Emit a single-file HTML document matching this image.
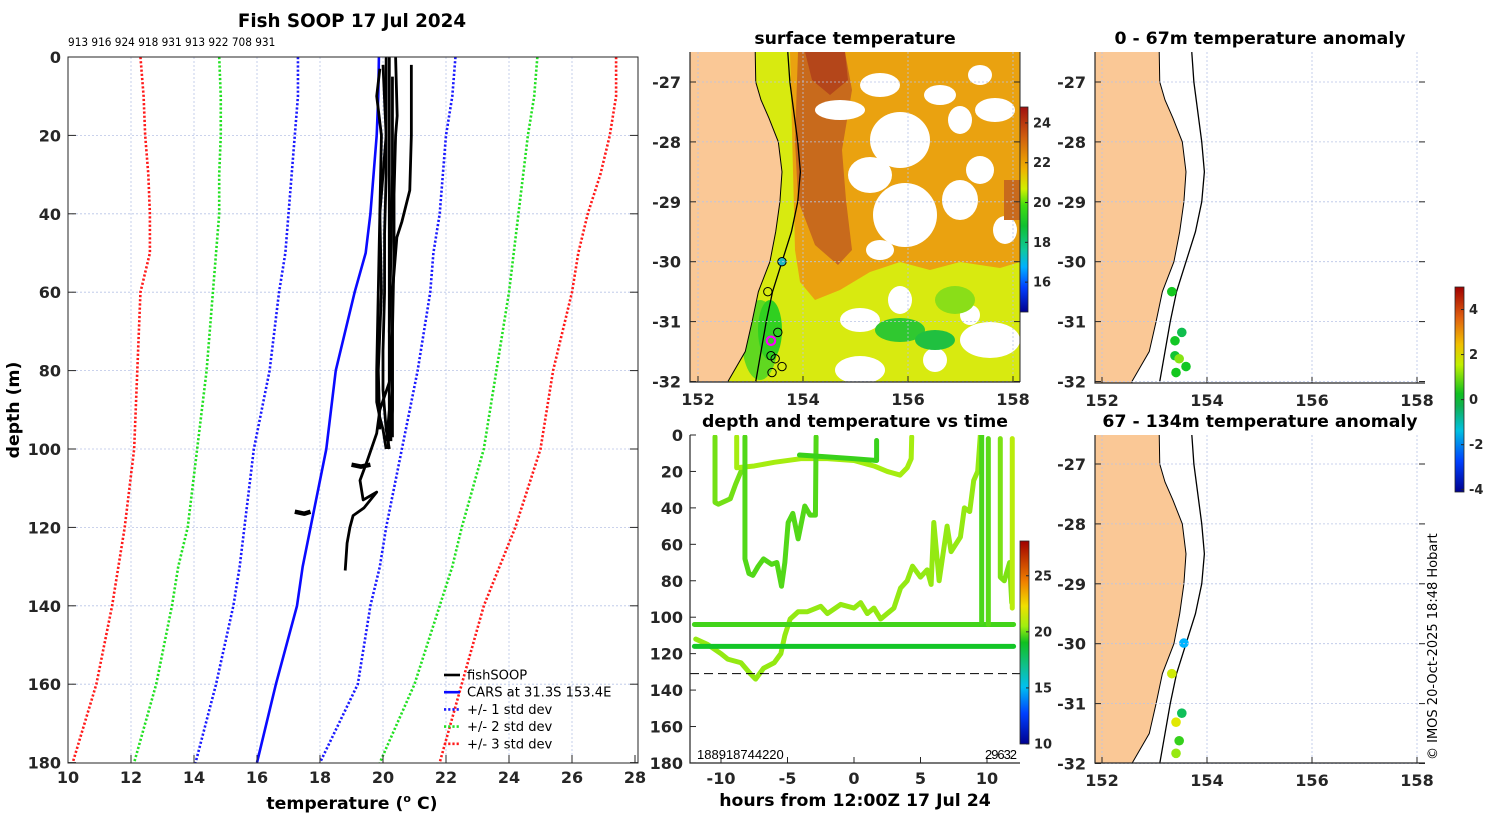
<!DOCTYPE html>
<html><head><meta charset="utf-8"><style>
body{margin:0;background:#fff;}
svg{display:block;font-family:"Liberation Sans","DejaVu Sans",sans-serif;}
.tk{font-family:"DejaVu Sans","Liberation Sans",sans-serif;font-weight:bold;font-size:16px;fill:#262626;}
.ttl{font-family:"DejaVu Sans","Liberation Sans",sans-serif;font-weight:bold;font-size:17.3px;fill:#000;}
.lg{font-family:"DejaVu Sans","Liberation Sans",sans-serif;font-size:13.1px;fill:#000;}
.grid{stroke:#b8c4e6;stroke-width:0.8;stroke-dasharray:2 2;fill:none;}
</style></head><body>
<svg id="fig" width="1500" height="820" viewBox="0 0 1500 820" xmlns="http://www.w3.org/2000/svg">
<defs>
<linearGradient id="jetSST" x1="0" y1="1" x2="0" y2="0">
<stop offset="0" stop-color="#00008f"/><stop offset="0.12" stop-color="#0040ff"/><stop offset="0.22" stop-color="#00b0ff"/><stop offset="0.3" stop-color="#10c8a0"/><stop offset="0.42" stop-color="#10c030"/><stop offset="0.52" stop-color="#40dd10"/><stop offset="0.6" stop-color="#d0f000"/><stop offset="0.7" stop-color="#f0b000"/><stop offset="0.85" stop-color="#d06010"/><stop offset="1" stop-color="#a01010"/>
</linearGradient>
<linearGradient id="jetTime" x1="0" y1="1" x2="0" y2="0">
<stop offset="0" stop-color="#00008f"/><stop offset="0.15" stop-color="#0040ff"/><stop offset="0.28" stop-color="#00c0f0"/><stop offset="0.38" stop-color="#10c090"/><stop offset="0.5" stop-color="#10c020"/><stop offset="0.58" stop-color="#a0ee10"/><stop offset="0.68" stop-color="#f0e000"/><stop offset="0.8" stop-color="#f08000"/><stop offset="1" stop-color="#a00000"/>
</linearGradient>
<linearGradient id="jetAnom" x1="0" y1="1" x2="0" y2="0">
<stop offset="0" stop-color="#00008f"/><stop offset="0.15" stop-color="#0040ff"/><stop offset="0.3" stop-color="#00c0e0"/><stop offset="0.42" stop-color="#10b050"/><stop offset="0.48" stop-color="#10c020"/><stop offset="0.62" stop-color="#c0f000"/><stop offset="0.72" stop-color="#f0c000"/><stop offset="0.85" stop-color="#e06010"/><stop offset="1" stop-color="#a00000"/>
</linearGradient>
<clipPath id="clipP"><rect x="68" y="57" width="570" height="706"/></clipPath>
<clipPath id="clipM1"><rect x="690" y="52" width="330" height="330"/></clipPath>
<clipPath id="clipM2"><rect x="1095" y="52" width="330" height="331"/></clipPath>
<clipPath id="clipM3"><rect x="1095" y="435" width="330" height="328"/></clipPath>
<clipPath id="clipT"><rect x="690" y="435" width="330" height="328"/></clipPath>
</defs>

<!-- ===== profile panel ===== -->
<text class="ttl" x="352" y="27" text-anchor="middle" font-size="18.3" style="font-size:18.3px">Fish SOOP 17 Jul 2024</text>
<text x="68" y="46" font-size="11.7" font-family="DejaVu Sans Condensed, DejaVu Sans, sans-serif" fill="#000">913 916 924 918 931 913 922 708 931</text>
<g id="profGrid"></g>
<g id="profMarks" clip-path="url(#clipP)"></g>
<rect x="68" y="57" width="570" height="706" fill="none" stroke="#262626" stroke-width="1"/>
<g id="profTicks"></g>
<text class="ttl" x="352" y="809" text-anchor="middle">temperature (<tspan font-size="11" dy="-7">o</tspan><tspan dy="7"> C)</tspan></text>
<text class="ttl" transform="translate(19,410) rotate(-90)" text-anchor="middle">depth (m)</text>
<g id="legend"></g>

<!-- ===== SST map ===== -->
<text class="ttl" x="855" y="44" text-anchor="middle">surface temperature</text>
<g id="m1" clip-path="url(#clipM1)"></g>
<g id="m1ax"></g>
<rect x="1020" y="107" width="8" height="205" fill="url(#jetSST)" stroke="#262626" stroke-width="0.8"/>
<g id="cb1"></g>

<!-- ===== time plot ===== -->
<text class="ttl" x="855" y="427" text-anchor="middle">depth and temperature vs time</text>
<g id="tMarks" clip-path="url(#clipT)"></g>
<g id="tAx"></g>
<rect x="1020" y="541" width="9" height="203" fill="url(#jetTime)" stroke="#262626" stroke-width="0.8"/>
<g id="cb2"></g>
<text class="ttl" x="855" y="806" text-anchor="middle">hours from 12:00Z 17 Jul 24</text>
<text x="697" y="759" font-size="13" fill="#000">188918744220</text>
<text x="985" y="759" font-size="13" fill="#000" textLength="32">29632</text>

<!-- ===== anomaly maps ===== -->
<text class="ttl" x="1260" y="44" text-anchor="middle">0 - 67m temperature anomaly</text>
<g id="m2" clip-path="url(#clipM2)"></g>
<g id="m2ax"></g>
<text class="ttl" x="1260" y="427" text-anchor="middle">67 - 134m temperature anomaly</text>
<g id="m3" clip-path="url(#clipM3)"></g>
<g id="m3ax"></g>
<rect x="1455" y="287" width="9" height="205" fill="url(#jetAnom)" stroke="#262626" stroke-width="0.8"/>
<g id="cb3"></g>
<text transform="translate(1437,760) rotate(-90)" font-size="13" font-family="DejaVu Sans, sans-serif" fill="#000">© IMOS 20-Oct-2025 18:48 Hobart</text>
</svg>

<script>
// ---------- profile data ----------
const depthLevels = [0,10,20,30,40,50,60,80,100,120,130,140,160,180];
const carsMean   = [19.87,19.85,19.8,19.7,19.6,19.45,19.1,18.5,18.2,17.7,17.45,17.27,16.6,16.0];
const std1Low    = [17.3,17.3,17.2,17.1,17.0,16.9,16.7,16.4,15.9,15.6,15.45,15.25,14.7,14.05];
const std1High   = [22.3,22.2,22.0,21.9,21.8,21.6,21.5,21.1,20.6,20.1,19.9,19.6,19.2,18.0];
const std2Low    = [14.8,14.85,14.85,14.8,14.8,14.7,14.6,14.4,14.1,13.8,13.5,13.3,12.8,12.1];
const std2High   = [24.9,24.8,24.6,24.45,24.3,24.15,24.0,23.6,23.2,22.5,22.2,21.8,21.0,19.9];
const std3Low    = [12.3,12.4,12.45,12.55,12.6,12.6,12.3,12.2,12.1,11.8,11.6,11.4,10.9,10.15];
const std3High   = [27.4,27.4,27.2,26.9,26.5,26.2,26.0,25.4,25.0,24.2,23.7,23.2,22.5,21.8];
const fishTemps = [
 [19.9,19.8,19.95,19.9,19.85,19.8,19.8,19.9,20.0,20.1],
 [20.1,20.1,20.1,20.05,20.05,20.0,20.0,20.1,20.2],
 [20.2,20.2,20.2,20.2,20.2,20.2,20.2,20.15,20.1],
 [20.4,20.45,20.4,20.35,20.35,20.3,20.3,20.25,20.25],
 [20.9,20.9,20.85,20.6,20.44,20.3,20.3,20.3,20.3],
 [20.0,20.1,19.9,19.95,19.85,19.9],
 [20.3,20.3,20.25,20.2,20.3,20.2,20.15],
 [20.2,19.9,19.8,19.5,19.27,19.37,19.8,19.4,19.05,18.95,18.86,18.8],
 [17.2,17.5,17.7],
 [19.0,19.3,19.6]
];
const fishDepths = [
 [3,10,20,40,60,80,88,92,95,100],
 [0,15,30,45,60,75,85,95,100],
 [0,20,40,60,70,80,90,95,98],
 [0,15,20,35,50,70,90,95,98],
 [2,20,34,42,46,60,80,90,97],
 [2,20,40,60,80,95],
 [5,30,50,70,85,95,100],
 [83,90,96,103,108,113,111,115,117,120,124,131],
 [116,116.5,116],
 [104,104.5,104]
];
const profTempTicks = [10,12,14,16,18,20,22,24,26,28];
const profDepthTicks = [0,20,40,60,80,100,120,140,160,180];
const legendLabels = ["fishSOOP","CARS at 31.3S 153.4E","+/- 1 std dev","+/- 2 std dev","+/- 3 std dev"];

// ---------- time plot data ----------
const timeTicks = [-10,-5,0,5,10];
const timeDepthTicks = [0,20,40,60,80,100,120,140,160,180];
const traceTimes = [
 [-10.45,-10.45,-10.2,-9.6,-9.3,-8.9,-8.5],
 [-8.82,-8.82,-7.5,-6,-4,-2,0,1,1.5,2.5,3.46,4.0,4.3,4.34],
 [-8.2,-8.2,-7.9,-7.6,-7.2,-6.8,-6.2,-5.8,-5.45,-5.2,-4.95,-4.6,-4.2,-3.7,-3.3,-2.9,-2.85],
 [-4.1,-2,0,1.7,1.7],
 [-11.9,-11,-10,-9.5,-8.5,-7.8,-7.4,-6.8,-6,-5.5,-5.2,-4.8,-4.2,-3.5,-2.5,-2,-1,0,0.5,1,1.5,2,3,3.5,4,4.4,5,5.5,5.8,6,6.4,6.7,7,7.3,8,8.3,8.7,9,9.3,9.5],
 [-12,-6,0,6,12],
 [-12,-6,0,6,12],
 [9.6,9.6],
 [10.1,10.1],
 [11,11,11.3,11.7,11.86],
 [11.9,11.9]
];
const traceDepths = [
 [1,37,38,36,35,27,20],
 [1,18,17,15,13,13,14,16,17,20,22,18,13,1],
 [1,68,76,77,72,68,71,70,83,70,48,43,57,39,44,44,1],
 [11,12,13,14,3],
 [112,115,120,123,125,131,134,128,125,120,110,101,97,97,94,98,93,95,92,98,95,101,95,84,80,72,78,74,82,48,80,65,50,64,56,40,42,25,20,0],
 [104,104,104,104,104],
 [116,116,116,116,116],
 [0,103],
 [2,104],
 [2,78,80,70,92],
 [2,95]
];
const traceTemps = [20.2,20.8,19.8,19.5,20.6,19.6,18.8,19.7,19.9,20.3,21.2];
const referenceDepth = 131;

// ---------- map data ----------
const coastLat = [-26.5,-27,-27.3,-27.6,-28,-28.5,-29,-29.5,-30,-30.5,-31,-31.5,-32];
const coastLon = [153.09,153.1,153.2,153.35,153.53,153.6,153.56,153.48,153.37,153.15,153.03,152.9,152.57];
const isoLat = [-26.5,-27,-28,-28.5,-29,-29.5,-30,-30.5,-31,-31.5,-32];
const isoLon = [153.71,153.75,153.9,153.95,153.9,153.78,153.6,153.42,153.3,153.2,153.1];
const stnLon = [153.6,153.33,153.52,153.39,153.39,153.47,153.6,153.41];
const stnLat = [-30.0,-30.5,-31.18,-31.32,-31.57,-31.62,-31.75,-31.85];
const anomShallowLon = [153.33,153.52,153.39,153.39,153.47,153.6,153.41];
const anomShallowLat = [-30.5,-31.18,-31.32,-31.57,-31.62,-31.75,-31.85];
const anomShallowVal = [0.5,-0.2,0.4,0.2,1.2,0.4,0.5];
const anomDeepLon = [153.56,153.33,153.52,153.41,153.47,153.41];
const anomDeepLat = [-29.99,-30.5,-31.16,-31.31,-31.62,-31.83];
const anomDeepVal = [-1.5,1.8,-0.3,2.0,0.7,1.3];
const lonTicks = [152,154,156,158];
const latTicks = [-27,-28,-29,-30,-31,-32];
const sstCbTicks = [16,18,20,22,24];
const timeCbTicks = [10,15,20,25];
const anomCbTicks = [-4,-2,0,2,4];

const NS="http://www.w3.org/2000/svg";
function mk(tag, attrs, parent){const e=document.createElementNS(NS,tag);for(const k in attrs)e.setAttribute(k,attrs[k]);parent.appendChild(e);return e;}
function G(id){return document.getElementById(id);}

const jetStops=[[0,[0,0,143]],[0.125,[0,0,255]],[0.3,[0,200,255]],[0.42,[16,190,80]],[0.5,[20,200,30]],[0.6,[170,238,16]],[0.68,[240,230,0]],[0.8,[240,130,0]],[1,[160,0,0]]];
function jet(f){f=Math.max(0,Math.min(1,f));for(let i=1;i<jetStops.length;i++){if(f<=jetStops[i][0]){const a=jetStops[i-1],b=jetStops[i],t=(f-a[0])/(b[0]-a[0]);const c=a[1].map((v,j)=>Math.round(v+(b[1][j]-v)*t));return `rgb(${c[0]},${c[1]},${c[2]})`;}}return "rgb(160,0,0)";}

// ---------- profile panel ----------
const px = t => 68 + (t-10)*31.5;
const py = d => 57 + d*3.92;
profTempTicks.forEach(t=>{
  if(t>10&&t<28){const l=mk('line',{x1:px(t),x2:px(t),y1:57,y2:763,class:'grid'},G('profGrid'));
  
  }
  const tl=mk('line',{x1:px(t),x2:px(t),y1:763,y2:755,stroke:'#262626'},G('profTicks'));
  
  
  const tt=mk('text',{x:px(t),y:783,class:'tk','text-anchor':'middle'},G('profTicks'));tt.textContent=t;
  
  
});
profDepthTicks.forEach(d=>{
  if(d>0&&d<180){const l=mk('line',{x1:68,x2:638,y1:py(d),y2:py(d),class:'grid'},G('profGrid'));
  
  }
  mk('line',{x1:68,x2:76,y1:py(d),y2:py(d),stroke:'#262626'},G('profTicks'));
  mk('line',{x1:630,x2:638,y1:py(d),y2:py(d),stroke:'#262626'},G('profTicks'));
  const tt=mk('text',{x:61,y:py(d)+6,class:'tk','text-anchor':'end'},G('profTicks'));tt.textContent=d;
  
  
});
function profLine(temps, name, color, width, dash){
  const pts=temps.map((t,i)=>px(t)+','+py(depthLevels[i])).join(' ');
  const e=mk('polyline',{points:pts,fill:'none',stroke:color,'stroke-width':width},G('profMarks'));
  if(dash)e.setAttribute('stroke-dasharray',dash);
  
  
}
profLine(std3Low,'std3-low-line','#ff1a1a',2.6,'2.2 2');
profLine(std3High,'std3-high-line','#ff1a1a',2.6,'2.2 2');
profLine(std2Low,'std2-low-line','#22e022',2.6,'2.2 2');
profLine(std2High,'std2-high-line','#22e022',2.6,'2.2 2');
profLine(std1Low,'std1-low-line','#1a1aff',2.6,'2.2 2');
profLine(std1High,'std1-high-line','#1a1aff',2.6,'2.2 2');
profLine(carsMean,'cars-mean-line','#0a0aff',2.6,null);
fishTemps.forEach((temps,k)=>{
  const pts=temps.map((t,i)=>px(t)+','+py(fishDepths[k][i])).join(' ');
  const e=mk('polyline',{points:pts,fill:'none',stroke:'#000','stroke-width':k>=8?4.5:2.8,'stroke-linejoin':'round'},G('profMarks'));
  
  
});
const lgCol=['#000','#0a0aff','#1a1aff','#22e022','#ff1a1a'];
legendLabels.forEach((lab,i)=>{
  const y=675+i*17.2;
  const l=mk('line',{x1:444,x2:460,y1:y,y2:y,stroke:lgCol[i],'stroke-width':2.6},G('legend'));
  if(i>=2)l.setAttribute('stroke-dasharray','2.2 2');
  
  
  const t=mk('text',{x:467,y:y+4.5,class:'lg'},G('legend'));t.textContent=lab;
  
  
});

// ---------- maps ----------
function mapFns(x0,y0){return {X:lon=>x0+(lon-152)*52.5, Y:lat=>y0+(-27-lat)*59.9};}
function drawCoast(g,X,Y,withIso){
  let pts=coastLon.map((lo,i)=>X(lo)+','+Y(coastLat[i]));
  const land=mk('polygon',{points:X(150)+','+Y(-26)+' '+X(coastLon[0])+','+Y(-26)+' '+pts.join(' ')+' '+X(coastLon[coastLon.length-1])+','+Y(-33)+' '+X(150)+','+Y(-33),fill:'#fac896',stroke:'#000','stroke-width':1},g);
  
  
  if(withIso){
    const iso=mk('polyline',{points:isoLon.map((lo,i)=>X(lo)+','+Y(isoLat[i])).join(' '),fill:'none',stroke:'#000','stroke-width':1.3},g);
    
    
  }
}
function drawMapAxes(g,X,Y,x0,x1,ytop,ybot,showLon){
  lonTicks.forEach(lo=>{
    const l=mk('line',{x1:X(lo),x2:X(lo),y1:ytop,y2:ybot,class:'grid'},g);
    
    
    mk('line',{x1:X(lo),x2:X(lo),y1:ybot,y2:ybot-6,stroke:'#262626'},g);
    if(showLon){const t=mk('text',{x:X(lo),y:ybot+23,class:'tk','text-anchor':'middle'},g);t.textContent=lo;
    
    }
  });
  latTicks.forEach(la=>{
    const y=Y(la); if(y<ytop-1||y>ybot+1)return;
    const l=mk('line',{x1:x0,x2:x1,y1:y,y2:y,class:'grid'},g);
    
    
    mk('line',{x1:x0,x2:x0+6,y1:y,y2:y,stroke:'#262626'},g);
    mk('line',{x1:x1-6,x2:x1,y1:y,y2:y,stroke:'#262626'},g);
    const t=mk('text',{x:x0-9,y:y+6,class:'tk','text-anchor':'end'},g);t.textContent=la;
    
    
  });
  mk('polyline',{points:`${x0},${ytop} ${x0},${ybot} ${x1},${ybot}`,fill:'none',stroke:'#262626','stroke-width':1.2},g);
}
(function(){
  const {X,Y}=mapFns(698,82); const g=G('m1');
  const r=(a)=>mk('path',a,g);
  mk('rect',{x:690,y:52,width:330,height:330,fill:'#d8ea10'},g);
  let e=r({d:`M690 52 H1020 V262 L1000 268 L960 262 L930 270 L900 262 L870 272 L840 290 L815 300 L800 282 L795 250 L790 52 Z`,fill:'#eaa210'}); 
  e=r({d:`M798 52 H845 L852 90 L842 150 L846 200 L852 250 L838 265 L815 245 L798 200 L795 140 Z`,fill:'#c86a1c'}); 
  r({d:`M805 52 H845 L848 80 L830 95 L812 80 Z`,fill:'#b4461a'});
  [[840,110,25,10],[880,85,20,12],[900,140,30,28],[870,175,22,18],[905,215,32,32],[960,200,18,20],[960,120,12,14],[940,95,16,10],[995,110,20,12],[980,170,14,14],[1005,230,12,14],[880,250,14,10],[980,75,12,10],[860,320,20,12],[900,300,12,14],[990,340,30,18],[860,370,25,14],[935,360,12,12],[970,315,10,10]].forEach(p=>{
    const w=mk('ellipse',{cx:p[0],cy:p[1],rx:p[2],ry:p[3],fill:'#fff'},g);
    
    
  });
  [[900,330,25,12,'#30c830'],[935,340,20,10,'#20c040'],[760,340,18,40,'#60d820'],[955,300,20,14,'#8ade18'],[770,330,12,30,'#30d020']].forEach(p=>{
    mk('ellipse',{cx:p[0],cy:p[1],rx:p[2],ry:p[3],fill:p[4]},g);
  });
  mk('rect',{x:1004,y:180,width:16,height:40,fill:'#c86a1c'},g);
  drawCoast(g,X,Y,true);
  stnLon.forEach((lo,i)=>{
    const c=mk('circle',{cx:X(lo),cy:Y(stnLat[i]),r:4.2,fill:i==0?'#20b8c0':'none',stroke:i==3?'#ff00ff':'#000','stroke-width':i==3?2.2:1},g);
    
    
  });
  drawMapAxes(G('m1ax'),X,Y,690,1020,52,382,true);
  mk('line',{x1:1020,x2:1020,y1:52,y2:382,stroke:'#262626'},G('m1ax'));
})();
function anomMap(gid,axid,x0,y0,ytop,ybot,lons,lats,vals,showLon){
  const {X,Y}=mapFns(x0,y0); const g=G(gid);
  drawCoast(g,X,Y,true);
  lons.forEach((lo,i)=>{
    const c=mk('circle',{cx:X(lo),cy:Y(lats[i]),r:4.8,fill:jet((vals[i]+4.1)/9.2)},g);
    
    
  });
  drawMapAxes(G(axid),X,Y,1095,1425,ytop,ybot,showLon);
}
anomMap('m2','m2ax',1102,82,52,383,anomShallowLon,anomShallowLat,anomShallowVal,true);
anomMap('m3','m3ax',1102,464,435,763,anomDeepLon,anomDeepLat,anomDeepVal,true);

// ---------- time plot ----------
const tx = t => 721 + (t+10)*13.3;
const ty = d => 435 + d*1.822;
traceTimes.forEach((ts,k)=>{
  const pts=ts.map((t,i)=>tx(t)+','+ty(traceDepths[k][i])).join(' ');
  const e=mk('polyline',{points:pts,fill:'none',stroke:jet((traceTemps[k]-10)/18.1),'stroke-width':5,'stroke-linejoin':'round','stroke-linecap':'round'},G('tMarks'));
  
  
});
{const e=mk('line',{x1:690,x2:1020,y1:ty(referenceDepth),y2:ty(referenceDepth),stroke:'#000','stroke-width':1,'stroke-dasharray':'9 5'},G('tMarks'));

}
timeTicks.forEach(t=>{
  mk('line',{x1:tx(t),x2:tx(t),y1:763,y2:757,stroke:'#262626'},G('tAx'));
  const tt=mk('text',{x:tx(t),y:784,class:'tk','text-anchor':'middle'},G('tAx'));tt.textContent=t;
  
  
});
timeDepthTicks.forEach(d=>{
  mk('line',{x1:690,x2:696,y1:ty(d),y2:ty(d),stroke:'#262626'},G('tAx'));
  const tt=mk('text',{x:683,y:ty(d)+6,class:'tk','text-anchor':'end'},G('tAx'));tt.textContent=d;
  
  
});
mk('polyline',{points:'690,435 690,763 1020,763',fill:'none',stroke:'#262626','stroke-width':1.2},G('tAx'));

// ---------- colorbar ticks ----------
function cbTicks(gid,ticks,x,ybot,ytop,vmin,vmax){
  ticks.forEach(v=>{
    const y=ybot-(v-vmin)/(vmax-vmin)*(ybot-ytop);
    mk('line',{x1:x-3,x2:x,y1:y,y2:y,stroke:'#262626'},G(gid));
    const t=mk('text',{x:x+5,y:y+4.5,class:'tk'},G(gid));t.textContent=v;
    t.setAttribute('style','font-size:13px');
    
    
  });
}
cbTicks('cb1',sstCbTicks,1028,312,107,14.5,24.8);
cbTicks('cb2',timeCbTicks,1029,744,541,10,28.1);
cbTicks('cb3',anomCbTicks,1464,492,287,-4.1,5.0);
</script>
</body></html>
